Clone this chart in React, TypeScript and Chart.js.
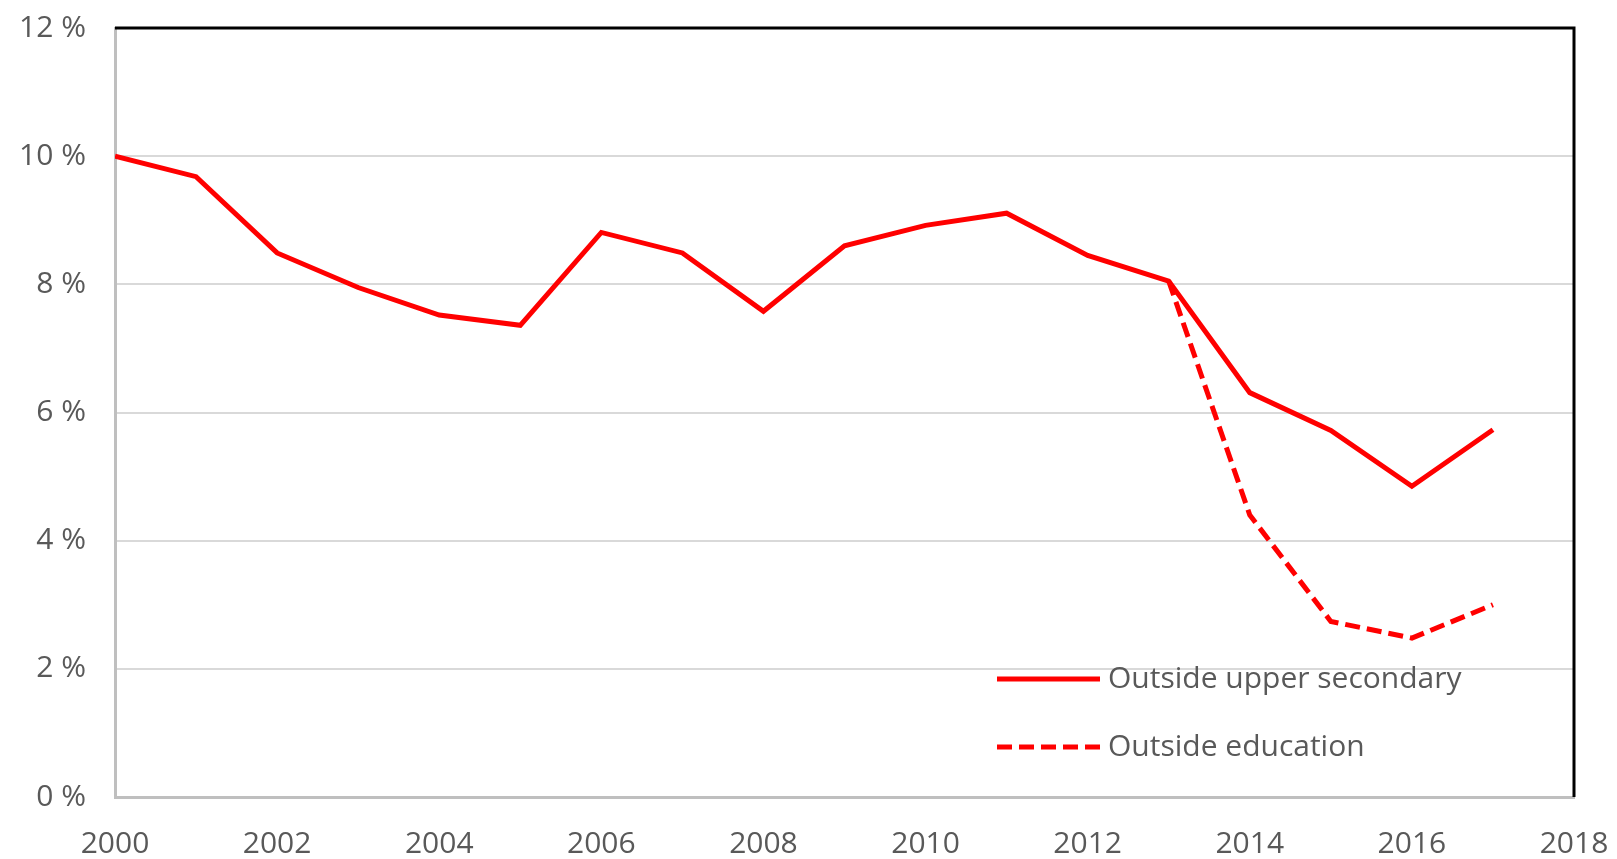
import React, { useEffect, useRef } from "react";
import { Chart, registerables } from "chart.js";

Chart.register(...registerables);

const years = [2000, 2001, 2002, 2003, 2004, 2005, 2006, 2007, 2008, 2009, 2010, 2011, 2012, 2013, 2014, 2015, 2016, 2017];
const upperSecondary = [10.0, 9.68, 8.49, 7.95, 7.52, 7.36, 8.81, 8.49, 7.58, 8.6, 8.92, 9.11, 8.45, 8.05, 6.31, 5.72, 4.85, 5.73];
const educationYears = [2013, 2014, 2015, 2016, 2017];
const outsideEducation = [8.05, 4.4, 2.74, 2.48, 3.0];
const seriesNames = ["Outside upper secondary", "Outside education"];
const yTicks = [0, 2, 4, 6, 8, 10, 12];
const xTicks = [2000, 2002, 2004, 2006, 2008, 2010, 2012, 2014, 2016, 2018];

const FONT = "'Open Sans', sans-serif";
const RED = "#ff0000";
const TEXT = "#595959";
const DASH = [15, 7];

const framePlugin = {
  id: "frame",
  afterDatasetsDraw(chart: any) {
    const { ctx, chartArea } = chart;
    const { left, right, top, bottom } = chartArea;
    ctx.save();
    ctx.strokeStyle = "#000000";
    ctx.lineWidth = 3;
    ctx.beginPath();
    ctx.moveTo(left, top);
    ctx.lineTo(right, top);
    ctx.lineTo(right, bottom);
    ctx.stroke();
    ctx.restore();
  },
  afterDraw(chart: any) {
    const { ctx } = chart;
    const items = [
      { y: 679, dash: [] as number[], label: seriesNames[0] },
      { y: 747, dash: DASH, label: seriesNames[1] },
    ];
    ctx.save();
    items.forEach((it) => {
      ctx.strokeStyle = RED;
      ctx.lineWidth = 5;
      ctx.setLineDash(it.dash);
      ctx.beginPath();
      ctx.moveTo(997, it.y);
      ctx.lineTo(1100, it.y);
      ctx.stroke();
      ctx.setLineDash([]);
      ctx.fillStyle = TEXT;
      ctx.font = `30px ${FONT}`;
      ctx.textBaseline = "middle";
      ctx.textAlign = "left";
      ctx.fillText(it.label, 1108, it.y);
    });
    ctx.restore();
  },
};

export default function App() {
  const ref = useRef<HTMLCanvasElement | null>(null);
  useEffect(() => {
    if (!ref.current) return;
    const chart = new Chart(ref.current, {
      type: "line",
      data: {
        datasets: [
          {
            label: seriesNames[0],
            data: years.map((x, i) => ({ x, y: upperSecondary[i] })),
            borderColor: RED,
            borderWidth: 5,
            pointRadius: 0,
            tension: 0,
          },
          {
            label: seriesNames[1],
            data: educationYears.map((x, i) => ({ x, y: outsideEducation[i] })),
            borderColor: RED,
            borderWidth: 5,
            borderDash: DASH,
            pointRadius: 0,
            tension: 0,
          },
        ],
      },
      options: {
        animation: false,
        responsive: false,
        maintainAspectRatio: false,
        layout: { padding: { top: 28, right: 43, left: 0, bottom: 0 } },
        plugins: { legend: { display: false }, tooltip: { enabled: false } },
        scales: {
          x: {
            type: "linear",
            min: xTicks[0],
            max: xTicks[xTicks.length - 1],
            afterBuildTicks: (s: any) => {
              s.ticks = xTicks.map((v) => ({ value: v }));
            },
            afterFit: (s: any) => {
              s.height = 62;
              s.paddingLeft = 0;
              s.paddingRight = 0;
            },
            grid: { display: false, drawTicks: false },
            border: { color: "#bfbfbf", width: 3 },
            ticks: {
              color: TEXT,
              font: { family: FONT, size: 30 },
              padding: 29,
              maxRotation: 0,
              autoSkip: false,
              callback: (v: any) => String(v),
            },
          },
          y: {
            min: yTicks[0],
            max: yTicks[yTicks.length - 1],
            afterBuildTicks: (s: any) => {
              s.ticks = yTicks.map((v) => ({ value: v }));
            },
            afterFit: (s: any) => {
              s.width = 115;
              s.paddingTop = 0;
              s.paddingBottom = 0;
            },
            grid: {
              color: (c: any) => (c.tick && c.tick.value === 0 ? "rgba(0,0,0,0)" : "#d9d9d9"),
              lineWidth: 2,
              drawTicks: false,
            },
            border: { color: "#bfbfbf", width: 3 },
            ticks: {
              color: TEXT,
              font: { family: FONT, size: 30 },
              padding: 29,
              callback: (v: any) => `${v} %`,
            },
          },
        },
      },
      plugins: [framePlugin],
    });
    return () => chart.destroy();
  }, []);
  return (
    <div style={{ position: "fixed", left: 0, top: 0, width: 1617, height: 859, background: "#fff" }}>
      <canvas ref={ref} width={1617} height={859} style={{ display: "block" }} />
    </div>
  );
}
